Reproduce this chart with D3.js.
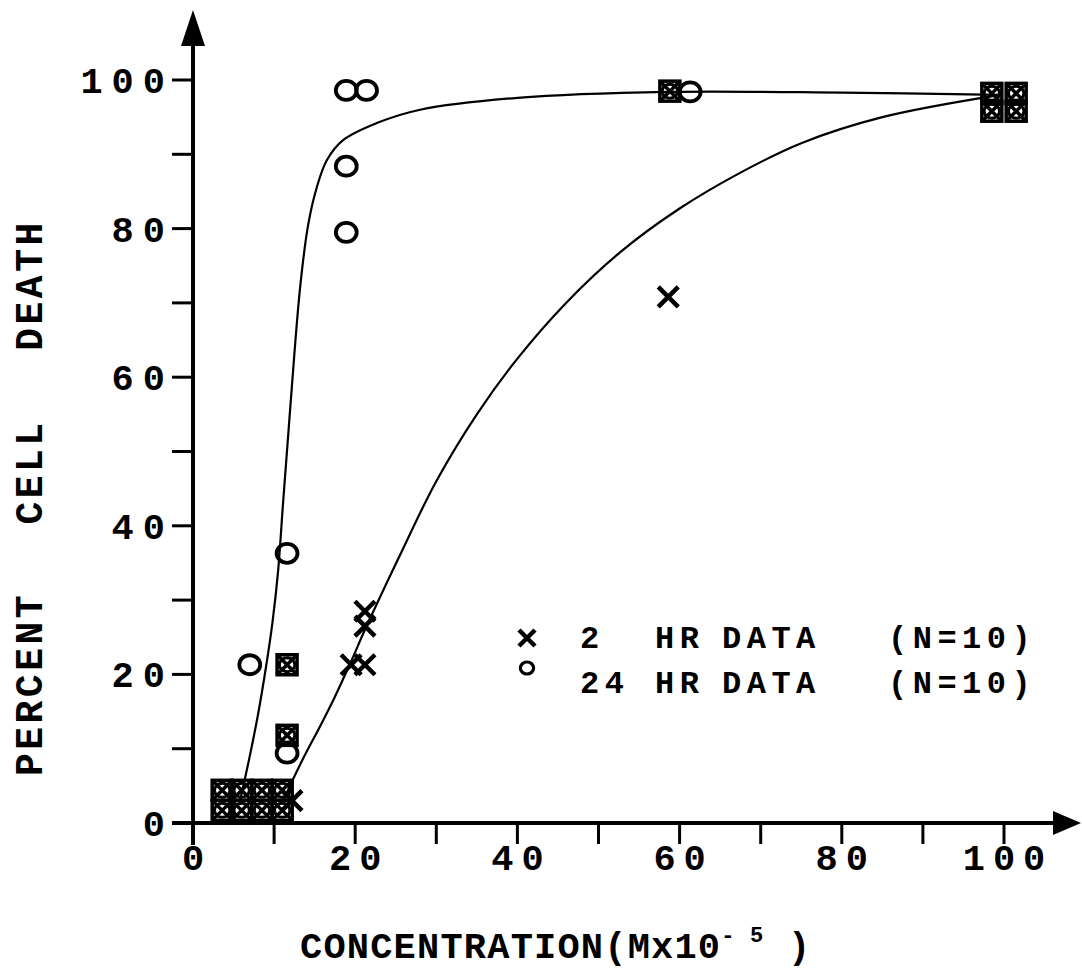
<!DOCTYPE html>
<html>
<head>
<meta charset="utf-8">
<script src="https://cdn.jsdelivr.net/npm/d3@7"></script>
<style>
  body { margin: 0; background: #fff; }
  text { font-family: "Liberation Mono", "DejaVu Sans Mono", monospace; font-weight: bold; fill: #000; }
</style>
</head>
<body>
<div id="chart"></div>
<script>
// ticks
var xTicks = [0, 10, 20, 30, 40, 50, 60, 70, 80, 90, 100];
var xTickLabels = [0, 20, 40, 60, 80, 100];
var yTicks = [0, 10, 20, 30, 40, 50, 60, 70, 80, 90, 100];
var yTickLabels = [0, 20, 40, 60, 80, 100];

// 2 HR points (x marks)
var conc2 = [12.2, 19.5, 21.2, 21.2, 21.2, 58.6];
var pct2 = [3, 21.3, 21.3, 26.5, 28.5, 70.8];

// 24 HR points (circles)
var conc24 = [7, 11.6, 11.6, 18.9, 18.9, 18.9, 21.4, 61.3];
var pct24 = [21.3, 36.3, 9.4, 79.5, 88.4, 98.6, 98.6, 98.4];

// overlapping points of both series
var concBoth = [3.6, 6, 8.5, 11, 3.6, 6, 8.5, 11, 11.6, 11.6, 58.8, 98.5, 101.5, 98.5, 101.5];
var pctBoth = [4.4, 4.4, 4.4, 4.4, 1.7, 1.7, 1.7, 1.7, 21.3, 11.8, 98.5, 98.2, 98.2, 95.8, 95.8];

// fitted curves
var fit24c = [5.8, 7, 8, 9, 9.8, 10.5, 11.1, 12, 13.2, 14.2, 15.25, 16.5, 18.5, 22.65, 28, 40, 58.6, 80, 99.5];
var fit24p = [3, 9, 14.5, 21, 27, 34, 43, 56, 72, 80.5, 85.5, 89.2, 91.9, 94.2, 96, 97.6, 98.4, 98.3, 98];
var fit2c = [11, 11.55, 13.5, 15.66, 17.5, 19.6, 21.2, 25.5, 30, 35, 40, 46, 52.65, 60, 67.45, 75, 85, 99.5];
var fit2p = [2.5, 4, 8.5, 13, 17, 22, 26, 36, 46, 55, 62.5, 70, 76.8, 82.7, 87.5, 91.5, 95, 98];

var width = 1082, height = 977;

var svg = d3.select("#chart").append("svg")
  .attr("width", width)
  .attr("height", height);

var x = d3.scaleLinear().domain([0, 100]).range([193, 1004]);
var y = d3.scaleLinear().domain([0, 100]).range([823, 80]);

// axes lines
svg.append("line").attr("x1", 172).attr("x2", 1056).attr("y1", y(0)).attr("y2", y(0))
  .attr("stroke", "#000").attr("stroke-width", 4);
svg.append("line").attr("x1", x(0)).attr("x2", x(0)).attr("y1", 845).attr("y2", 42)
  .attr("stroke", "#000").attr("stroke-width", 4);

// arrow heads
svg.append("path").attr("d", "M1081," + y(0) + " L1053," + (y(0) - 12) + " L1053," + (y(0) + 12) + "Z");
svg.append("path").attr("d", "M" + x(0) + ",10 L" + (x(0) - 12) + ",46 L" + (x(0) + 12) + ",46Z");

// ticks
svg.selectAll(".xt").data(xTicks).enter().append("line")
  .attr("x1", function (d) { return x(d); }).attr("x2", function (d) { return x(d); })
  .attr("y1", y(0)).attr("y2", y(0) + 21)
  .attr("stroke", "#000").attr("stroke-width", 3);
svg.selectAll(".yt").data(yTicks).enter().append("line")
  .attr("x1", x(0) - 21).attr("x2", x(0))
  .attr("y1", function (d) { return y(d); }).attr("y2", function (d) { return y(d); })
  .attr("stroke", "#000").attr("stroke-width", 3);

// tick labels
svg.selectAll(".xl").data(xTickLabels).enter().append("text")
  .attr("x", function (d) { return x(d) + 4; })
  .attr("y", 870)
  .attr("text-anchor", "middle")
  .style("font-size", "37px")
  .style("letter-spacing", "8px")
  .text(function (d) { return d; });
svg.selectAll(".yl").data(yTickLabels).enter().append("text")
  .attr("x", 174)
  .attr("y", function (d) { return y(d) + 13; })
  .attr("text-anchor", "end")
  .style("font-size", "37px")
  .style("letter-spacing", "9px")
  .text(function (d) { return d; });

// axis titles
var xt = svg.append("text").attr("x", 300).attr("y", 958).style("font-size", "37px").style("letter-spacing", "1.2px");
xt.append("tspan").text("CONCENTRATION(Mx10");
xt.append("tspan").attr("dy", -16).style("font-size", "22px").text("- 5");
xt.append("tspan").attr("dy", 16).text(" )");

var yWords = [["DEATH", 285], ["CELL", 472], ["PERCENT", 684]];
yWords.forEach(function (w) {
  svg.append("text")
    .attr("transform", "translate(42," + w[1] + ") rotate(-90)")
    .attr("text-anchor", "middle")
    .style("font-size", "38px")
    .style("letter-spacing", "3.5px")
    .text(w[0]);
});

// curves
var line = d3.line().x(function (d) { return x(d[0]); }).y(function (d) { return y(d[1]); })
  .curve(d3.curveCatmullRom.alpha(0.5));
svg.append("path").datum(d3.zip(fit24c, fit24p)).attr("d", line)
  .attr("fill", "none").attr("stroke", "#000").attr("stroke-width", 2.2);
svg.append("path").datum(d3.zip(fit2c, fit2p)).attr("d", line)
  .attr("fill", "none").attr("stroke", "#000").attr("stroke-width", 2.2);

// markers
function drawX(g, cx, cy, s, w) {
  g.append("path")
    .attr("d", "M" + (cx - s) + "," + (cy - s) + "L" + (cx + s) + "," + (cy + s) +
      "M" + (cx - s) + "," + (cy + s) + "L" + (cx + s) + "," + (cy - s))
    .attr("stroke", "#000").attr("stroke-width", w).attr("fill", "none");
}
function drawO(g, cx, cy, r, w) {
  g.append("ellipse").attr("cx", cx).attr("cy", cy).attr("rx", r * 1.1).attr("ry", r)
    .attr("stroke", "#000").attr("stroke-width", w).attr("fill", "none");
}

var marks = svg.append("g");
d3.zip(concBoth, pctBoth).forEach(function (d) {
  var cx = x(d[0]), cy = y(d[1]);
  marks.append("rect").attr("x", cx - 10).attr("y", cy - 10).attr("width", 20).attr("height", 20)
    .attr("fill", "none").attr("stroke", "#000").attr("stroke-width", 3.5);
  drawX(marks, cx, cy, 9, 3.5);
  drawO(marks, cx, cy, 7, 3);
});
d3.zip(conc2, pct2).forEach(function (d) {
  drawX(marks, x(d[0]), y(d[1]), 10, 4.5);
});
d3.zip(conc24, pct24).forEach(function (d) {
  drawO(marks, x(d[0]), y(d[1]), 9.5, 3.8);
});

// legend
var leg = svg.append("g");
drawX(leg, 527, 638, 8, 4.5);
drawO(leg, 527, 668, 6, 3.2);
var legRows = [["2", 648], ["24", 693]];
legRows.forEach(function (r) {
  [[r[0], 580], ["HR", 655], ["DATA", 722], ["(N=10)", 888]].forEach(function (p) {
    leg.append("text").attr("x", p[1]).attr("y", r[1])
      .style("font-size", "32px").style("letter-spacing", "5.5px").text(p[0]);
  });
});
</script>
</body>
</html>
